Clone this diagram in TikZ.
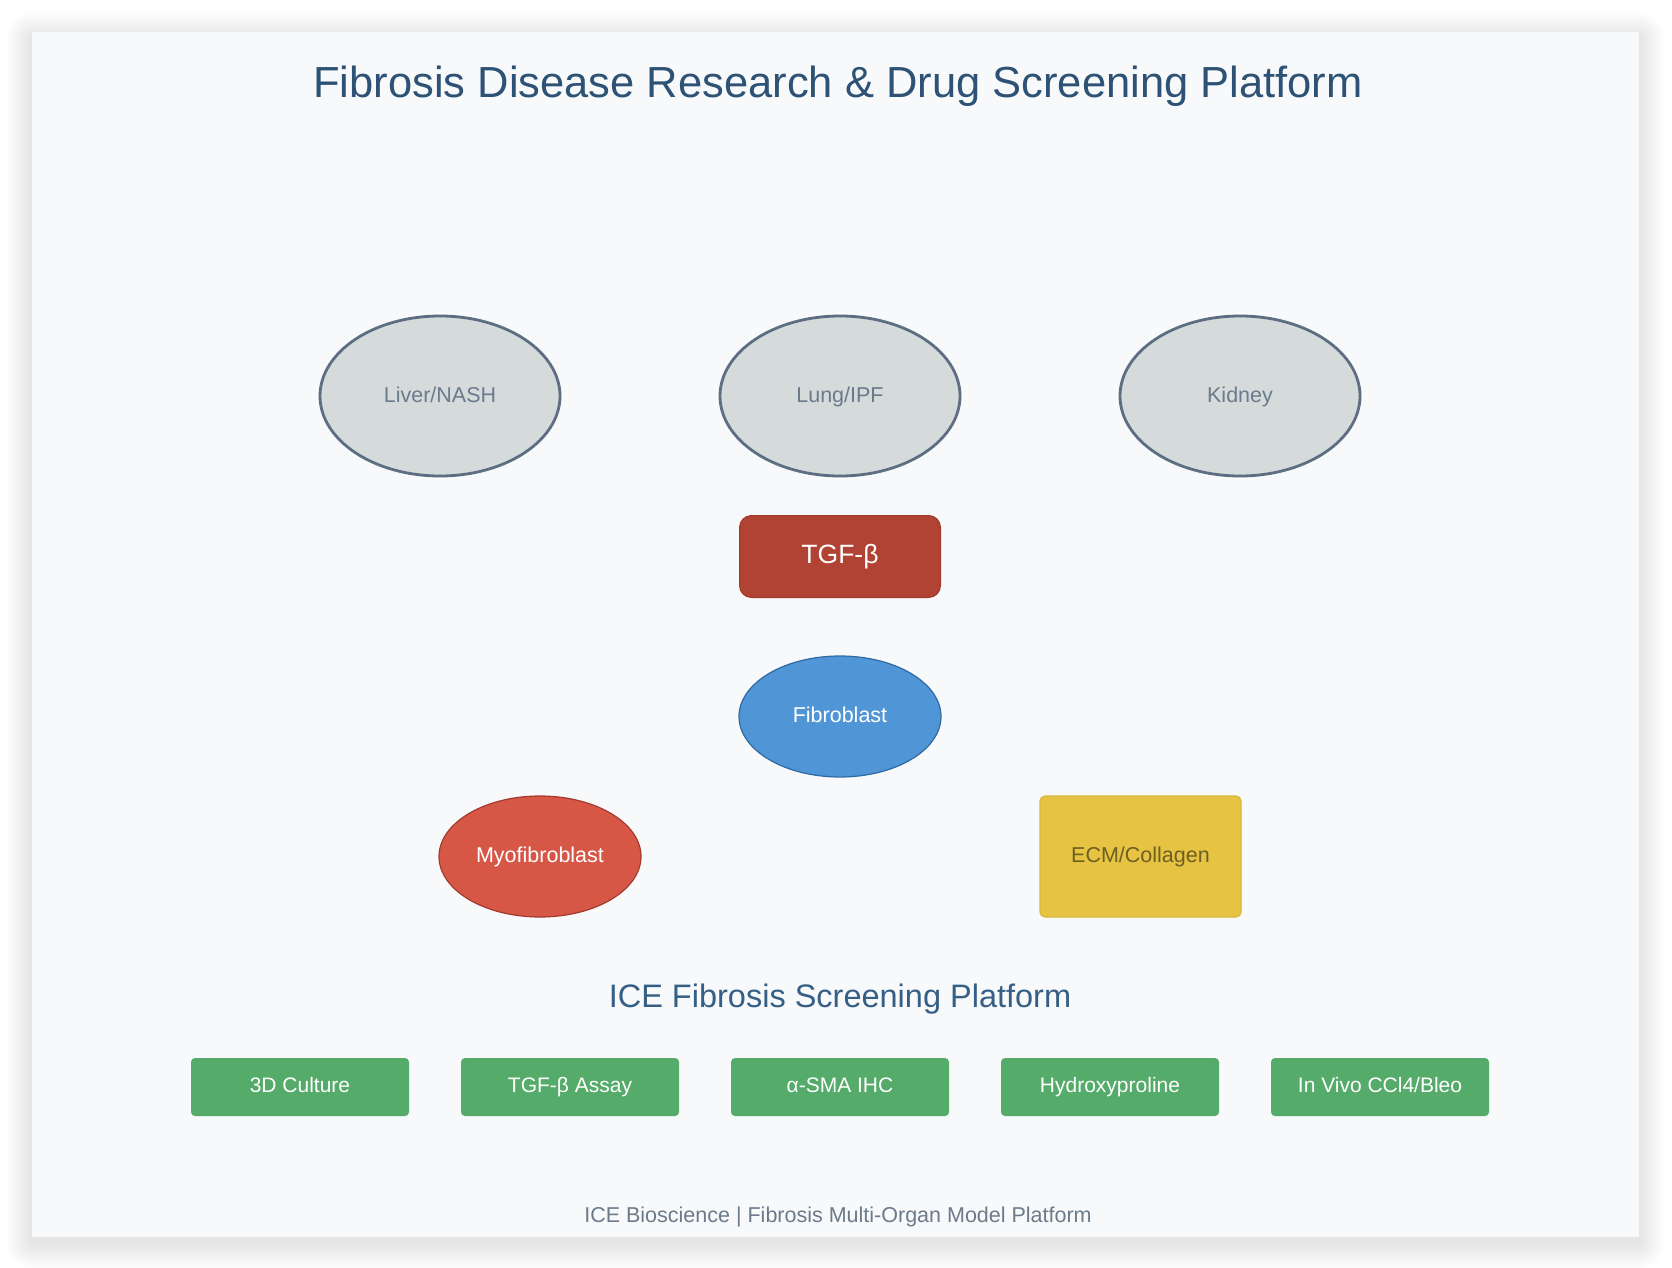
\documentclass[tikz,border=0pt]{standalone}
\usepackage{fontspec}
\setmainfont{Liberation Sans}
\usetikzlibrary{shapes.geometric}
\definecolor{cardbg}{HTML}{F7F9FB}
\definecolor{titlec}{HTML}{2D5275}
\definecolor{sectc}{HTML}{365F86}
\definecolor{organfill}{HTML}{D5DBDB}
\definecolor{organline}{HTML}{5D6D82}
\definecolor{organtext}{HTML}{6B7A8C}
\definecolor{tgffill}{HTML}{B04333}
\definecolor{tgfline}{HTML}{A03A2C}
\definecolor{fibfill}{HTML}{5095D5}
\definecolor{fibline}{HTML}{2F6AA3}
\definecolor{myofill}{HTML}{D65746}
\definecolor{myoline}{HTML}{A33A2D}
\definecolor{ecmfill}{HTML}{E6C342}
\definecolor{ecmline}{HTML}{D9B739}
\definecolor{ecmtext}{HTML}{6E5F22}
\definecolor{greenfill}{HTML}{55AB69}
\definecolor{footc}{HTML}{6C7A89}
\tikzset{
  organ/.style={ellipse, draw=organline, line width=2.8pt, fill=organfill,
    minimum width=240pt, minimum height=160pt, inner sep=0pt,
    text height=16pt, text depth=4pt,
    text=organtext, font=\fontsize{21.5}{24}\selectfont},
  tgfbox/.style={rectangle, rounded corners=12pt, draw=tgfline, line width=1pt, fill=tgffill,
    minimum width=201pt, minimum height=82pt, inner sep=0pt,
    text height=19pt, text depth=6pt,
    text=white, font=\fontsize{26.5}{30}\selectfont},
  fibcell/.style={ellipse, draw=fibline, line width=1.2pt, fill=fibfill,
    minimum width=202pt, minimum height=121pt, inner sep=0pt,
    text height=15pt, text depth=4pt,
    text=white, font=\fontsize{21.5}{24}\selectfont},
  myocell/.style={ellipse, draw=myoline, line width=1.2pt, fill=myofill,
    minimum width=202pt, minimum height=121pt, inner sep=0pt,
    text height=15pt, text depth=4pt,
    text=white, font=\fontsize{21.5}{24}\selectfont},
  ecmbox/.style={rectangle, rounded corners=5pt, draw=ecmline, line width=1.2pt, fill=ecmfill,
    minimum width=201pt, minimum height=121pt, inner sep=0pt,
    text height=15pt, text depth=4pt,
    text=ecmtext, font=\fontsize{21.5}{24}\selectfont},
  assay/.style={rectangle, rounded corners=4pt, fill=greenfill,
    minimum width=218pt, minimum height=58pt, inner sep=0pt,
    text height=14pt, text depth=4pt,
    text=white, font=\fontsize{21}{24}\selectfont},
}
\begin{document}
\begin{tikzpicture}[x=1pt,y=-1pt]
\useasboundingbox (0,0) rectangle (1672,1268);
\fill[white] (0,0) rectangle (1672,1268);
% soft shadow
\foreach \i in {1,...,26}{
  \fill[black,opacity=0.003,rounded corners=\i pt] (32-\i,32-\i+6) rectangle (1639+\i,1237+\i+6);
}
\fill[cardbg] (32,32) rectangle (1639,1237);

\node[text=titlec, font=\fontsize{43.5}{50}\selectfont, anchor=base, inner sep=0pt] (title) at (838,98) {Fibrosis Disease Research \& Drug Screening Platform};

\node[organ] (liver) at (440,396) {Liver/NASH};
\node[organ] (lung) at (840,396) {Lung/IPF};
\node[organ] (kidney) at (1240,396) {Kidney};

\node[tgfbox] (tgf) at (840,556.5) {TGF-β};
\node[fibcell] (fib) at (840,716.5) {Fibroblast};
\node[myocell] (myo) at (540,856.5) {Myofibroblast};
\node[ecmbox] (ecm) at (1140.5,856.5) {ECM/Collagen};

\node[text=sectc, font=\fontsize{32.5}{36}\selectfont, anchor=base, inner sep=0pt] (sect) at (840,1007) {ICE Fibrosis Screening Platform};

\node[assay] (a1) at (300,1087) {3D Culture};
\node[assay] (a2) at (570,1087) {TGF-β Assay};
\node[assay] (a3) at (840,1087) {α-SMA IHC};
\node[assay] (a4) at (1110,1087) {Hydroxyproline};
\node[assay] (a5) at (1380,1087) {In Vivo CCl4/Bleo};

\node[text=footc, font=\fontsize{21.5}{24}\selectfont, anchor=base, inner sep=0pt] (foot) at (838,1222) {ICE Bioscience | Fibrosis Multi-Organ Model Platform};
\end{tikzpicture}
\end{document}
